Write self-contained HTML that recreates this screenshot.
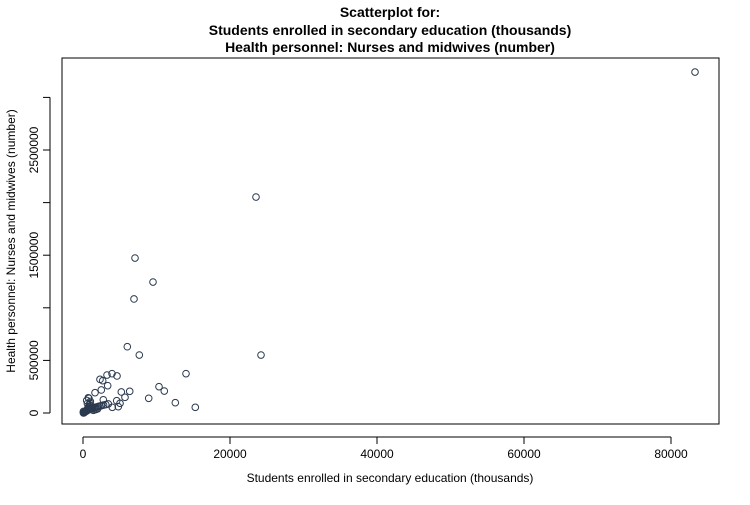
<!DOCTYPE html>
<html><head><meta charset="utf-8"><style>
body{margin:0;background:#fff;font-family:"Liberation Sans",Arial,sans-serif}
svg text{font-family:"Liberation Sans",Arial,sans-serif}
</style></head><body>
<svg id="c" width="750" height="500">
<g font-weight="bold" font-size="14" text-anchor="middle">
<text x="390" y="17">Scatterplot for:</text>
<text x="390" y="35">Students enrolled in secondary education (thousands)</text>
<text x="390" y="52">Health personnel: Nurses and midwives (number)</text>
</g>
<rect x="62" y="58" width="657" height="366" fill="none" stroke="#000"/>
<text x="390" y="482" font-size="12" text-anchor="middle">Students enrolled in secondary education (thousands)</text>
<text transform="translate(15,241) rotate(-90)" font-size="12" text-anchor="middle">Health personnel: Nurses and midwives (number)</text>
<g id="axes"></g><g id="pts"></g>
</svg>
<script>
const xTicks=[0,20000,40000,60000,80000];
const yTicks=[0,500000,1000000,1500000,2000000,2500000,3000000];
const yLabels=["0","500000","","1500000","","2500000",""];
const xVals=[83265,23537,7075,9524,6939,6027,7660,24218,14014,10340,11061,8939,12558,15279,3946,3265,4626,2313,2680,3361,2490,1633,5211,6354,5714,721,2762,4585,5034,3442,3986,4803,
100,200,300,400,500,600,700,800,900,1000,1100,1200,1300,1500,1700,1900,2100,2300,2500,2800,3100,150,250,350,450,550,650,750,850,950,1050,1250,1400,1600,1800,2000,50,80,120,60,500,800,1000,600,900];
const yVals=[3241000,2053000,1473000,1245000,1084000,630000,551000,551000,374000,250000,209000,140000,98000,54000,374000,361000,352000,320000,307000,260000,219000,193000,200000,206000,149000,145000,126000,117000,92000,86000,54000,60000,
5000,8000,12000,16000,20000,25000,30000,32000,35000,40000,42000,45000,48000,52000,55000,58000,62000,66000,70000,75000,80000,3000,10000,14000,22000,28000,45000,60000,80000,95000,70000,40000,25000,30000,35000,40000,2000,1000,4000,15000,120000,140000,110000,90000,60000];
const sx=v=>83+v/20000*147, sy=v=>413-v/1e6*105.2;
const NS="http://www.w3.org/2000/svg";
const ax=document.getElementById('axes'), pg=document.getElementById('pts');
function mk(t,a,p){const e=document.createElementNS(NS,t);for(const k in a)e.setAttribute(k,a[k]);p.appendChild(e);return e;}
let l=mk('line',{x1:sx(0),x2:sx(80000),y1:437,y2:437,stroke:'#000'},ax);


xTicks.forEach(v=>{const t=mk('line',{x1:sx(v),x2:sx(v),y1:437,y2:444,stroke:'#000'},ax);


const tx=mk('text',{x:sx(v),y:458,'font-size':12,'text-anchor':'middle'},ax);tx.textContent=v;

});
l=mk('line',{x1:50,x2:50,y1:sy(0),y2:sy(3000000),stroke:'#000'},ax);


yTicks.forEach((v,i)=>{const t=mk('line',{x1:43,x2:50,y1:sy(v),y2:sy(v),stroke:'#000'},ax);


if(yLabels[i]){const tx=mk('text',{transform:`translate(38,${sy(v)}) rotate(-90)`,'font-size':12,'text-anchor':'middle'},ax);tx.textContent=yLabels[i];

}});
xVals.forEach((x,i)=>{const c=mk('circle',{cx:sx(x),cy:sy(yVals[i]),r:3.3,fill:'none',stroke:'#2b3a4f','stroke-width':1},pg);

});
</script>
</body></html>
